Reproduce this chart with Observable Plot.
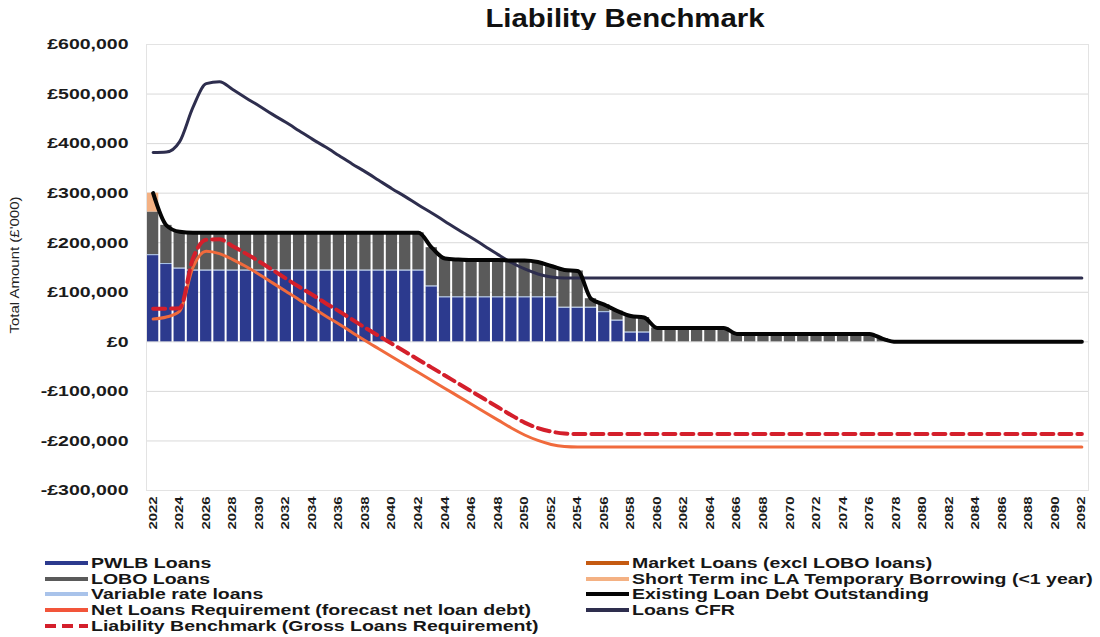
<!DOCTYPE html>
<html>
<head>
<meta charset="utf-8">
<script src="https://cdn.jsdelivr.net/npm/d3@7"></script>
<script src="https://cdn.jsdelivr.net/npm/@observablehq/plot@0.6"></script>
<style>
  body { margin: 0; background: #fff; font-family: "Liberation Sans", Arial, sans-serif; }
  #wrap { position: relative; width: 1100px; height: 637px; overflow: hidden; background: #fff; }
  #title { position: absolute; left: 625px; top: 3px; white-space: nowrap;
           font-size: 26px; font-weight: bold; color: #111;
           transform: translateX(-50%) scaleX(1.13); }
  #chart { position: absolute; left: 0; top: 30px; }
  .item { position: absolute; height: 16px; display: flex; align-items: center; white-space: nowrap; }
  .item svg { flex: none; }
  .item span { display: inline-block; font-size: 15px; font-weight: bold; color: #161616;
               transform: scaleX(1.3); transform-origin: left center; margin-left: 2px; line-height: 16px; }
</style>
</head>
<body>
<div id="wrap">
  <div id="title">Liability Benchmark</div>
  <div id="chart"></div>
  <div id="legend"></div>
</div>
<script>
// Financial years shown on the horizontal axis
const years = d3.range(2022, 2093);

// Loan portfolio components (£'000), stacked as bars
const pwlb = [
  174000, 156000, 147000,
  143000, 143000, 143000, 143000, 143000, 143000, 143000, 143000, 143000,
  143000, 143000, 143000, 143000, 143000, 143000, 143000, 143000, 143000,
  111000,
  89000, 89000, 89000, 89000, 89000, 89000, 89000, 89000, 89000,
  68000, 68000, 68000, 59000, 42000, 18000, 18000,
  0, 0, 0, 0, 0, 0, 0, 0, 0, 0, 0, 0, 0, 0, 0, 0, 0, 0, 0, 0, 0, 0, 0,
  0, 0, 0, 0, 0, 0, 0, 0, 0, 0, 0, 0
];
const variableRate = [
  2000, 2000, 2000, 2000, 2000, 2000, 2000, 2000, 2000, 2000, 2000, 2000, 2000,
  2000, 2000, 2000, 2000, 2000, 2000, 2000, 2000, 2000, 2000, 2000, 2000, 2000,
  2000, 2000, 2000, 2000, 2000, 2000, 2000, 2000, 2000, 2000, 2000, 2000,
  0, 0, 0, 0, 0, 0, 0, 0, 0, 0, 0, 0, 0, 0, 0, 0, 0, 0, 0, 0, 0, 0, 0,
  0, 0, 0, 0, 0, 0, 0, 0, 0, 0, 0, 0
];
const lobo = [
  86000, 77000, 73000,
  75000, 75000, 75000, 75000, 75000, 75000, 75000, 75000, 75000,
  75000, 75000, 75000, 75000, 75000, 75000, 75000, 75000, 75000,
  77000, 77000, 75000, 74000, 74000, 74000, 73000, 73000, 70000, 62000,
  75000, 73000, 17000, 14000, 18000, 32000, 29000,
  28000, 28000, 28000, 28000, 28000, 28000,
  16000, 16000, 16000, 16000, 16000, 16000, 16000, 16000, 16000, 16000, 16000,
  6000,
  0, 0, 0, 0, 0, 0, 0, 0, 0, 0, 0, 0, 0, 0, 0
];
const marketLoans = [
  0, 0, 0, 0, 0, 0, 0, 0, 0, 0, 0, 0, 0, 0, 0, 0, 0, 0, 0, 0, 0, 0, 0, 0,
  0, 0, 0, 0, 0, 0, 0, 0, 0, 0, 0, 0, 0, 0, 0, 0, 0, 0, 0, 0, 0, 0, 0, 0,
  0, 0, 0, 0, 0, 0, 0, 0, 0, 0, 0, 0, 0, 0, 0, 0, 0, 0, 0, 0, 0, 0, 0
];
const shortTerm = [
  38000, 0, 0, 0, 0, 0, 0, 0, 0, 0, 0, 0, 0, 0, 0, 0, 0, 0, 0, 0, 0, 0, 0, 0,
  0, 0, 0, 0, 0, 0, 0, 0, 0, 0, 0, 0, 0, 0, 0, 0, 0, 0, 0, 0, 0, 0, 0, 0,
  0, 0, 0, 0, 0, 0, 0, 0, 0, 0, 0, 0, 0, 0, 0, 0, 0, 0, 0, 0, 0, 0, 0
];

// Line series (£'000)
const existingDebt = [
  300000, 235000, 222000,
  220000, 220000, 220000, 220000, 220000, 220000, 220000, 220000, 220000,
  220000, 220000, 220000, 220000, 220000, 220000, 220000, 220000, 220000,
  190000, 168000, 166000, 165000, 165000, 165000, 164000, 164000, 161000, 153000,
  145000, 143000, 87000, 75000, 62000, 52000, 49000,
  28000, 28000, 28000, 28000, 28000, 28000,
  16000, 16000, 16000, 16000, 16000, 16000, 16000, 16000, 16000, 16000, 16000,
  6000,
  0, 0, 0, 0, 0, 0, 0, 0, 0, 0, 0, 0, 0, 0, 0
];
const loansCFR = [
  382000, 383000, 404000, 473000, 521000, 525000, 509000, 492000, 476000, 459000,
  443000, 426000, 409000, 393000, 376000, 359000, 343000, 326000, 309000, 293000,
  276000, 260000, 243000, 226000, 210000, 193000, 176000, 160000, 147000, 137000,
  131000, 129000, 129000, 129000, 129000, 129000, 129000, 129000, 129000, 129000,
  129000, 129000, 129000, 129000, 129000, 129000, 129000, 129000, 129000, 129000,
  129000, 129000, 129000, 129000, 129000, 129000, 129000, 129000, 129000, 129000,
  129000, 129000, 129000, 129000, 129000, 129000, 129000, 129000, 129000, 129000,
  129000
];
const netLoansRequirement = [
  46000, 50000, 62000, 150000, 183000, 178000, 166000, 152000, 136000, 119000,
  102000, 85000, 69000, 52000, 36000, 19000, 2000, -14000, -30000, -46000,
  -62000, -78000, -94000, -110000, -126000, -142000, -158000, -174000, -188000, -199000,
  -207000, -211000, -212000, -212000, -212000, -212000, -212000, -212000, -212000, -212000,
  -212000, -212000, -212000, -212000, -212000, -212000, -212000, -212000, -212000, -212000,
  -212000, -212000, -212000, -212000, -212000, -212000, -212000, -212000, -212000, -212000,
  -212000, -212000, -212000, -212000, -212000, -212000, -212000, -212000, -212000, -212000,
  -212000
];
const liabilityBenchmark = [
  67000, 67000, 68000, 168000, 206000, 207000, 193000, 178000, 162000, 145000,
  128000, 111000, 95000, 78000, 62000, 45000, 28000, 12000, -4000, -20000,
  -36000, -52000, -68000, -84000, -100000, -116000, -132000, -148000, -163000, -174000,
  -181000, -185000, -186000, -186000, -186000, -186000, -186000, -186000, -186000, -186000,
  -186000, -186000, -186000, -186000, -186000, -186000, -186000, -186000, -186000, -186000,
  -186000, -186000, -186000, -186000, -186000, -186000, -186000, -186000, -186000, -186000,
  -186000, -186000, -186000, -186000, -186000, -186000, -186000, -186000, -186000, -186000,
  -186000
];

// Axis ticks
const yTicks = [-300000, -200000, -100000, 0, 100000, 200000, 300000, 400000, 500000, 600000];
const xTicks = d3.range(2022, 2093, 2);

// Series styling
const barSeries = [
  {name: "PWLB Loans", values: pwlb, color: "#2C3A8E"},
  {name: "Variable rate loans", values: variableRate, color: "#A9C3EA"},
  {name: "LOBO Loans", values: lobo, color: "#5A5A5A"},
  {name: "Market Loans (excl LOBO loans)", values: marketLoans, color: "#C55A11"},
  {name: "Short Term inc LA Temporary Borrowing (<1 year)", values: shortTerm, color: "#F4B183"}
];
const colors = {
  existing: "#050505",
  cfr: "#2E2E4E",
  net: "#F06A3C",
  bench: "#D41F2B"
};

// Stack the bar components year by year
const stacked = [];
years.forEach((year, i) => {
  let base = 0;
  for (const s of barSeries) {
    const v = s.values[i];
    if (v > 0) {
      stacked.push({year, series: s.name, y1: base, y2: base + v});
      base += v;
    }
  }
});

const rows = years.map((year, i) => ({
  year,
  existing: existingDebt[i],
  cfr: loansCFR[i],
  net: netLoansRequirement[i],
  bench: liabilityBenchmark[i]
}));

const money = v => (v < 0 ? "-" : "") + "£" + d3.format(",")(Math.abs(v));

const chart = Plot.plot({
  width: 1100,
  height: 522,
  marginLeft: 146,
  marginRight: 12,
  marginTop: 14,
  marginBottom: 62,
  style: {fontFamily: "Liberation Sans, Arial, sans-serif", background: "#fff"},
  x: {domain: [2021.5, 2092.5], label: null},
  y: {domain: [-300000, 600000], label: null},
  color: {domain: barSeries.map(s => s.name), range: barSeries.map(s => s.color)},
  marks: [
    Plot.gridY(yTicks, {stroke: "#D9D9D9", strokeOpacity: 1}),
    Plot.frame({stroke: "#E3E3E3"}),
    Plot.rect(stacked, {
      x1: d => d.year - 0.5,
      x2: d => d.year + 0.5,
      y1: "y1",
      y2: "y2",
      fill: "series",
      insetLeft: 1,
      insetRight: 1
    }),
    Plot.line(rows, {x: "year", y: "net", stroke: colors.net, strokeWidth: 3, curve: "monotone-x"}),
    Plot.line(rows, {x: "year", y: "bench", stroke: colors.bench, strokeWidth: 4, strokeDasharray: "12,6", curve: "monotone-x"}),
    Plot.line(rows, {x: "year", y: "cfr", stroke: colors.cfr, strokeWidth: 3, curve: "monotone-x"}),
    Plot.line(rows, {x: "year", y: "existing", stroke: colors.existing, strokeWidth: 4, curve: "monotone-x"}),
    Plot.axisY(yTicks, {tickSize: 0, tickPadding: 18, tickFormat: money, fontSize: 15, fontWeight: "bold", fill: "#1b1b1b"}),
    Plot.axisX(xTicks, {tickSize: 0, tickPadding: 6, tickRotate: -90, tickFormat: d => String(d), fontSize: 11, fontWeight: "bold", fill: "#1b1b1b"})
  ]
});

document.getElementById("chart").appendChild(chart);

// Widen the axis lettering along its reading direction
const svg = d3.select(chart);
svg.selectAll('g[aria-label="y-axis tick label"] text')
  .attr("transform", function() { return (this.getAttribute("transform") || "") + " scale(1.3,1)"; });
svg.selectAll('g[aria-label="x-axis tick label"] text')
  .attr("transform", function() { return (this.getAttribute("transform") || "") + " scale(1.35,1)"; });

// Vertical axis title
svg.append("text")
  .attr("transform", "translate(19,235) rotate(-90) scale(1.25,1)")
  .attr("text-anchor", "middle")
  .attr("font-size", 12)
  .attr("fill", "#222")
  .text("Total Amount (£'000)");

// Legend in two columns beneath the chart
const legendItems = [
  {label: "PWLB Loans", color: "#2C3A8E", left: 44, top: 555},
  {label: "LOBO Loans", color: "#5A5A5A", left: 44, top: 570.5},
  {label: "Variable rate loans", color: "#A9C3EA", left: 44, top: 586},
  {label: "Net Loans Requirement (forecast net loan debt)", color: "#F2553A", left: 44, top: 602},
  {label: "Liability Benchmark (Gross Loans Requirement)", color: colors.bench, left: 44, top: 618, dash: true},
  {label: "Market Loans (excl LOBO loans)", color: "#C55A11", left: 585, top: 555},
  {label: "Short Term inc LA Temporary Borrowing (<1 year)", color: "#F4B183", left: 585, top: 570.5},
  {label: "Existing Loan Debt Outstanding", color: colors.existing, left: 585, top: 586},
  {label: "Loans CFR", color: colors.cfr, left: 585, top: 602}
];
const legend = d3.select("#legend");
for (const it of legendItems) {
  const row = legend.append("div").attr("class", "item")
    .style("left", it.left + "px").style("top", it.top + "px");
  const sw = row.append("svg").attr("width", 45).attr("height", 16);
  sw.append("line")
    .attr("x1", 1).attr("x2", 44).attr("y1", 8).attr("y2", 8)
    .attr("stroke", it.color).attr("stroke-width", 4)
    .attr("stroke-dasharray", it.dash ? "11,6" : null);
  row.append("span").text(it.label);
}
</script>
</body>
</html>
